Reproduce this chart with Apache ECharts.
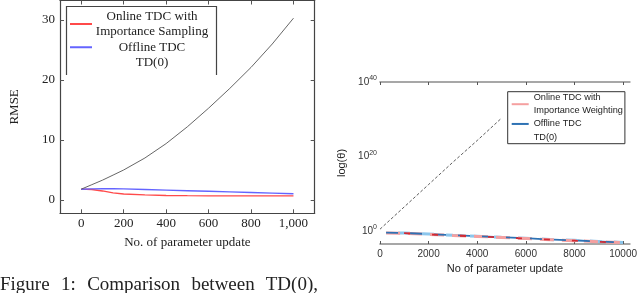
<!DOCTYPE html>
<html>
<head>
<meta charset="utf-8">
<script src="https://cdn.jsdelivr.net/npm/echarts@6/dist/echarts.min.js"></script>
<style>
  html, body { margin: 0; padding: 0; background: #fff; }
  #wrap { position: relative; width: 640px; height: 293px; overflow: hidden; }
  #left { position: absolute; left: 0; top: 0; width: 320px; height: 293px; }
  #right { position: absolute; left: 320px; top: 0; width: 320px; height: 293px; }
  #cap { position: absolute; left: 0; top: 274px; width: 318px; font: 19px/19px 'Liberation Serif', serif; color: #222;
         text-align: justify; text-align-last: justify; }
</style>
</head>
<body>
<div id="wrap">
  <div id="left"></div>
  <div id="right"></div>
  <div id="cap">Figure 1: Comparison between TD(0),</div>
</div>
<script>
// ---------- Left chart data (RMSE) ----------
const leftX       = [0, 50, 100, 150, 200, 300, 400, 500, 600, 700, 800, 900, 1000];
const leftTd0     = [1.8, 2.55, 3.3, 4.15, 5.0, 7.0, 9.4, 12.2, 15.3, 18.6, 22.1, 26.0, 30.3];
const leftOnline  = [1.8, 1.75, 1.5, 1.2, 1.0, 0.85, 0.75, 0.72, 0.7, 0.7, 0.7, 0.7, 0.7];
const leftOffline = [1.8, 1.85, 1.9, 1.88, 1.85, 1.75, 1.65, 1.55, 1.45, 1.35, 1.25, 1.15, 1.05];
const leftXTicks  = [0, 200, 400, 600, 800, 1000];
const leftYTicks  = [0, 10, 20, 30];

// ---------- Right chart data (log theta) ----------
const rightTdX     = [0, 1000, 2000, 3000, 4000, 5000];
const rightTd0     = [3, 3e6, 3e12, 3e18, 2e24, 2e30];
const rightX       = [250, 1000, 2000, 3000, 4000, 5000, 6000, 7000, 8000, 9000, 10000];
const rightOnline  = [0.3, 0.25, 0.12, 0.06, 0.035, 0.018, 0.009, 0.0045, 0.0025, 0.0012, 0.0007];
const rightOffline = [0.35, 0.28, 0.15, 0.07, 0.04, 0.02, 0.011, 0.005, 0.003, 0.0015, 0.0008];
const rightXTicks  = [0, 2000, 4000, 6000, 8000, 10000];
const rightYTicks  = [1, 1e20, 1e40];

const pairs = (xs, ys) => xs.map((x, i) => [x, ys[i]]);

// ---------- Left chart ----------
const serif = 'Liberation Serif';
const frame = { show: true, onZero: false, lineStyle: { color: '#444', width: 1.2 } };
const tickL = (vals) => ({ show: true, inside: true, length: 4, customValues: vals, lineStyle: { color: '#555', width: 1 } });
const leftNames = ['Online TDC with\nImportance Sampling', 'Offline TDC', 'TD(0)'];

const left = echarts.init(document.getElementById('left'), null, { renderer: 'canvas' });
left.setOption({
  animation: false,
  grid: { left: 57.6, right: 5.3, top: 0.5, bottom: 79.7 },
  xAxis: [
    { type: 'value', position: 'bottom', min: -100, max: 1100,
      axisLine: frame, axisTick: tickL(leftXTicks), splitLine: { show: false },
      axisLabel: { customValues: leftXTicks, margin: 4, fontFamily: serif, fontSize: 13, color: '#222',
                   formatter: v => v.toLocaleString('en-US') },
      name: 'No. of parameter update', nameLocation: 'middle', nameGap: 23,
      nameTextStyle: { fontFamily: serif, fontSize: 13, color: '#222' } },
    { type: 'value', position: 'top', min: -100, max: 1100,
      axisLine: frame, axisTick: tickL(leftXTicks), splitLine: { show: false },
      axisLabel: { show: false } }
  ],
  yAxis: [
    { type: 'value', position: 'left', min: -2.22, max: 33.25,
      axisLine: frame, axisTick: tickL(leftYTicks), splitLine: { show: false },
      axisLabel: { customValues: leftYTicks, margin: 5, fontFamily: serif, fontSize: 13, color: '#222' },
      name: 'RMSE', nameLocation: 'middle', nameGap: 39,
      nameTextStyle: { fontFamily: serif, fontSize: 13, color: '#222' } },
    { type: 'value', position: 'right', min: -2.22, max: 33.25,
      axisLine: frame, axisTick: tickL(leftYTicks), splitLine: { show: false },
      axisLabel: { show: false } }
  ],
  legend: {
    left: 70, top: 8.5, orient: 'vertical', itemGap: 0, itemWidth: 22, itemHeight: 2, padding: 0,
    selectedMode: false, icon: 'rect',
    data: [
      { name: leftNames[0] },
      { name: leftNames[1] },
      { name: leftNames[2], lineStyle: { opacity: 0 }, itemStyle: { opacity: 0 } }
    ],
    formatter: n => n.split('\n').map(s => '{c|' + s + '}').join('\n'),
    textStyle: { fontFamily: serif, fontSize: 13, lineHeight: 15.5, color: '#222',
      rich: { c: { width: 110, align: 'center', fontFamily: serif, fontSize: 13, lineHeight: 15.5, color: '#222' } } }
  },
  graphic: [{
    type: 'polyline', silent: true,
    shape: { points: [[66.5, 75], [66.5, 6.5], [216.5, 6.5], [216.5, 75]] },
    style: { stroke: '#444', lineWidth: 1.2, fill: null }
  }],
  series: [
    { name: leftNames[0], type: 'line', showSymbol: false, symbol: 'none',
      data: pairs(leftX, leftOnline), lineStyle: { color: '#ff4a4a', width: 1.3 }, itemStyle: { color: '#ff4a4a' } },
    { name: leftNames[1], type: 'line', showSymbol: false, symbol: 'none',
      data: pairs(leftX, leftOffline), lineStyle: { color: '#6464ff', width: 1.4 }, itemStyle: { color: '#6464ff' } },
    { name: leftNames[2], type: 'line', showSymbol: false, symbol: 'none',
      data: pairs(leftX, leftTd0), lineStyle: { color: '#555', width: 0.9 }, itemStyle: { color: '#555' } }
  ]
});

// ---------- Right chart ----------
const sans = 'Liberation Sans';
const rframe = { show: true, onZero: false, lineStyle: { color: '#8a8a8a', width: 1.6 } };
const tickR = { show: true, inside: true, length: 3, customValues: rightXTicks, lineStyle: { color: '#555', width: 1 } };
const rightNames = ['Online TDC with\nImportance Weighting', 'Offline TDC', 'TD(0)'];

const right = echarts.init(document.getElementById('right'), null, { renderer: 'canvas' });
right.setOption({
  animation: false,
  grid: { left: 60, right: 7, top: 82, bottom: 49 },
  xAxis: [
    { type: 'value', position: 'bottom', min: 0, max: 10280,
      axisLine: rframe, axisTick: tickR, splitLine: { show: false },
      axisLabel: { customValues: rightXTicks, margin: 5, fontFamily: sans, fontSize: 10, color: '#333',
                   formatter: v => String(v) },
      name: 'No of parameter update', nameLocation: 'middle', nameGap: 19.5,
      nameTextStyle: { fontFamily: sans, fontSize: 11, color: '#222' } },
    { type: 'value', position: 'top', min: 0, max: 10280,
      axisLine: rframe, axisTick: tickR, splitLine: { show: false },
      axisLabel: { show: false } }
  ],
  yAxis: [{
    type: 'log', logBase: 10, min: 3.16e-4, max: 1e40,
    axisLine: { show: false }, axisTick: { show: false }, splitLine: { show: false },
    axisLabel: { customValues: rightYTicks, margin: 3,
      formatter: v => '{b|10}{s|' + Math.round(Math.log10(v)) + '}',
      rich: { b: { fontFamily: sans, fontSize: 10, lineHeight: 14, color: '#333' },
              s: { fontFamily: sans, fontSize: 7, lineHeight: 8, verticalAlign: 'top', color: '#333' } } },
    name: 'log(θ)', nameLocation: 'middle', nameGap: 27.5,
    nameTextStyle: { fontFamily: sans, fontSize: 11, color: '#222' }
  }],
  legend: {
    left: 187.7, top: 91.7, orient: 'vertical', itemGap: 1, itemWidth: 17, itemHeight: 2,
    padding: [0, 2, 0, 4], borderColor: '#333', borderWidth: 1, selectedMode: false, icon: 'rect',
    data: [
      { name: rightNames[0] },
      { name: rightNames[1] },
      { name: rightNames[2], lineStyle: { opacity: 0 }, itemStyle: { opacity: 0 } }
    ],
    textStyle: { fontFamily: sans, fontSize: 9.2, lineHeight: 12.5, color: '#222' }
  },
  series: [
    { name: rightNames[0], type: 'line', showSymbol: false, symbol: 'none', z: 2,
      data: pairs(rightX, rightOnline),
      lineStyle: { color: '#f5a0a0', width: 3, type: [14, 8] }, itemStyle: { color: '#f5a0a0' } },
    { name: 'online-dark', type: 'line', showSymbol: false, symbol: 'none', z: 3,
      data: pairs(rightX, rightOnline),
      lineStyle: { color: '#d22a33', width: 1.8, type: [6, 22], dashOffset: 10 } },
    { name: rightNames[1], type: 'line', showSymbol: false, symbol: 'none', z: 2,
      data: pairs(rightX, rightOffline),
      lineStyle: { color: '#2e72b4', width: 1.8, type: [12, 12] }, itemStyle: { color: '#2e72b4' } },
    { name: 'offline-light', type: 'line', showSymbol: false, symbol: 'none', z: 1,
      data: pairs(rightX, rightOffline),
      lineStyle: { color: '#8cc6ec', width: 3, type: [12, 12], dashOffset: 12 } },
    { name: rightNames[2], type: 'line', showSymbol: false, symbol: 'none', z: 2,
      data: pairs(rightTdX, rightTd0),
      lineStyle: { color: '#333', width: 0.8, type: [3, 2] }, itemStyle: { color: '#333' } }
  ]
});
</script>
</body>
</html>
